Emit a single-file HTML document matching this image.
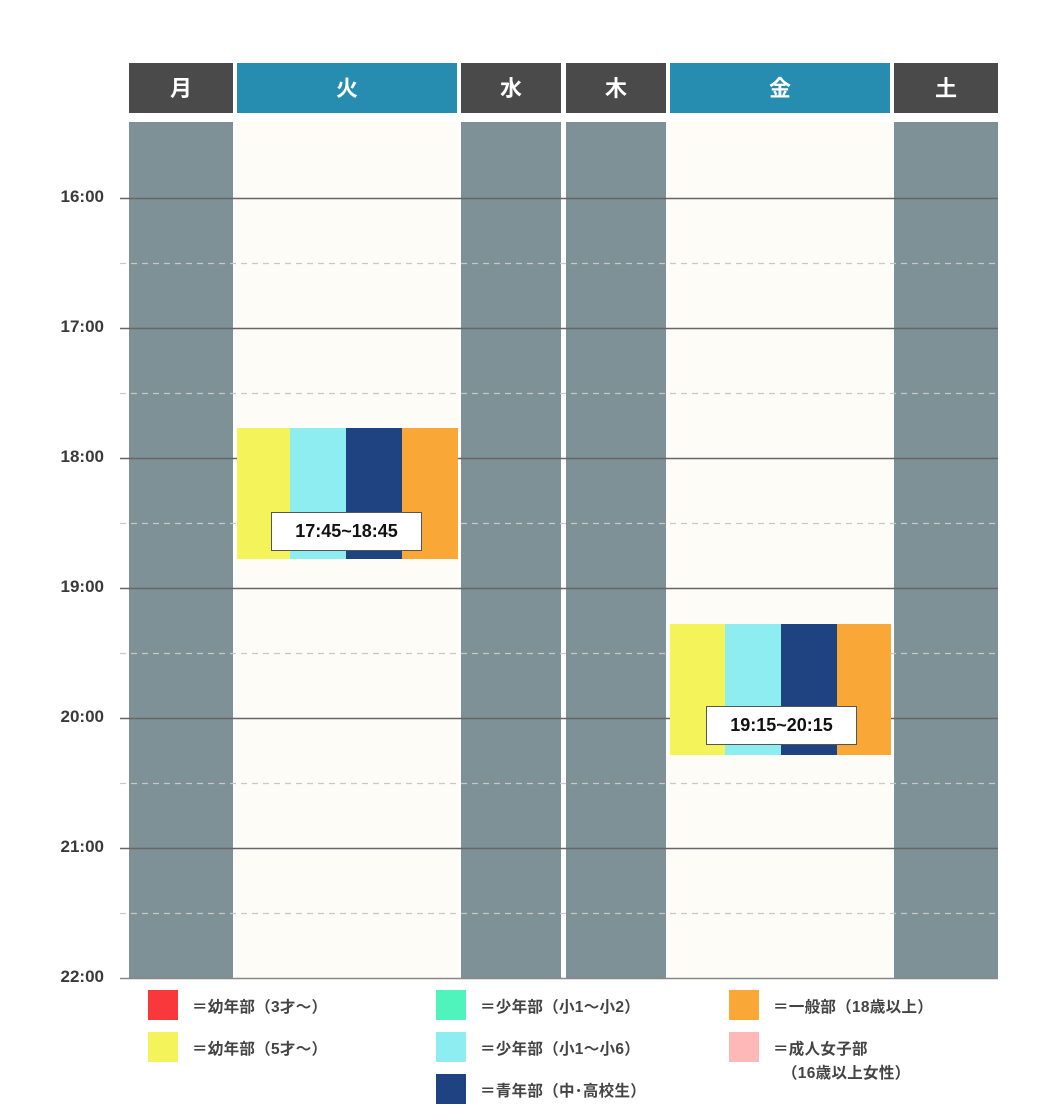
<!DOCTYPE html>
<html><head><meta charset="utf-8"><style>
body{margin:0;background:#fff;width:1050px;height:1120px;position:relative;overflow:hidden;font-family:"Liberation Sans","Noto Sans CJK JP",sans-serif}
.a{position:absolute}
.h{position:absolute;top:63px;height:50px;color:#fff;font-weight:bold;font-size:22px;text-align:center;line-height:52px}
.col{position:absolute;top:122px;height:856px}
.t{position:absolute;left:38px;width:66px;text-align:right;font-size:17px;font-weight:bold;color:#3a3a3a}
.sw{position:absolute;width:30px;height:30px}
.lg{position:absolute;font-size:15.5px;font-weight:bold;color:#444;letter-spacing:0.3px}
.box{position:absolute;background:#fff;border:1px solid #555;font-size:18px;font-weight:bold;color:#111;text-align:center;line-height:37px;width:149px;height:37px}
</style></head><body>
<div class="h" style="left:129px;width:104px;background:#4a4a4a">月</div>
<div class="h" style="left:237px;width:220px;background:#268db0">火</div>
<div class="h" style="left:461px;width:100px;background:#4a4a4a">水</div>
<div class="h" style="left:566px;width:100px;background:#4a4a4a">木</div>
<div class="h" style="left:670px;width:220px;background:#268db0">金</div>
<div class="h" style="left:894px;width:104px;background:#4a4a4a">土</div>

<div class="col" style="left:129px;width:104px;background:#7e9197"></div>
<div class="col" style="left:235px;width:223px;background:#fdfcf7"></div>
<div class="col" style="left:461px;width:100px;background:#7e9197"></div>
<div class="col" style="left:566px;width:100px;background:#7e9197"></div>
<div class="col" style="left:668px;width:224px;background:#fdfcf7"></div>
<div class="col" style="left:894px;width:104px;background:#7e9197"></div>

<svg class="a" style="left:0;top:0" width="1050" height="1120">
<g stroke-width="1.5">
<line x1="120" x2="998" y1="198.5" y2="198.5" stroke="#666"/>
<line x1="120" x2="998" y1="328.5" y2="328.5" stroke="#666"/>
<line x1="120" x2="998" y1="458.5" y2="458.5" stroke="#666"/>
<line x1="120" x2="998" y1="588.5" y2="588.5" stroke="#666"/>
<line x1="120" x2="998" y1="718.5" y2="718.5" stroke="#666"/>
<line x1="120" x2="998" y1="848.5" y2="848.5" stroke="#666"/>
<line x1="120" x2="998" y1="978.5" y2="978.5" stroke="#888"/>
</g>
<g stroke="#c8c8c8" stroke-dasharray="6,5" stroke-width="1.2">
<line x1="120" x2="998" y1="263.5" y2="263.5"/>
<line x1="120" x2="998" y1="393.5" y2="393.5"/>
<line x1="120" x2="998" y1="523.5" y2="523.5"/>
<line x1="120" x2="998" y1="653.5" y2="653.5"/>
<line x1="120" x2="998" y1="783.5" y2="783.5"/>
<line x1="120" x2="998" y1="913.5" y2="913.5"/>
</g>
<rect x="237" y="428" width="53" height="131" fill="#f5f35a"/>
<rect x="290" y="428" width="56" height="131" fill="#8eedf1"/>
<rect x="346" y="428" width="56" height="131" fill="#1f4381"/>
<rect x="402" y="428" width="56" height="131" fill="#f9a838"/>
<rect x="670" y="624" width="55" height="131" fill="#f5f35a"/>
<rect x="725" y="624" width="56" height="131" fill="#8eedf1"/>
<rect x="781" y="624" width="56" height="131" fill="#1f4381"/>
<rect x="837" y="624" width="54" height="131" fill="#f9a838"/>
</svg>
<div class="box" style="left:271px;top:512px">17:45~18:45</div>
<div class="box" style="left:706px;top:706px">19:15~20:15</div>

<div class="t" style="top:187px">16:00</div>
<div class="t" style="top:317px">17:00</div>
<div class="t" style="top:447px">18:00</div>
<div class="t" style="top:577px">19:00</div>
<div class="t" style="top:707px">20:00</div>
<div class="t" style="top:837px">21:00</div>
<div class="t" style="top:967px">22:00</div>

<div class="sw" style="left:148px;top:990px;background:#f8383a"></div>
<div class="lg" style="left:192px;top:995px">＝幼年部（3才～）</div>
<div class="sw" style="left:148px;top:1032px;background:#f5f35a"></div>
<div class="lg" style="left:192px;top:1037px">＝幼年部（5才～）</div>
<div class="sw" style="left:436px;top:990px;background:#4ef4bc"></div>
<div class="lg" style="left:480px;top:995px">＝少年部（小1～小2）</div>
<div class="sw" style="left:436px;top:1032px;background:#8eedf1"></div>
<div class="lg" style="left:480px;top:1037px">＝少年部（小1～小6）</div>
<div class="sw" style="left:436px;top:1074px;background:#1f4381"></div>
<div class="lg" style="left:480px;top:1079px">＝青年部（中･高校生）</div>
<div class="sw" style="left:729px;top:990px;background:#f9a838"></div>
<div class="lg" style="left:773px;top:995px">＝一般部（18歳以上）</div>
<div class="sw" style="left:729px;top:1032px;background:#feb8b8"></div>
<div class="lg" style="left:773px;top:1037px">＝成人女子部</div>
<div class="lg" style="left:782px;top:1061px">（16歳以上女性）</div>
</body></html>
